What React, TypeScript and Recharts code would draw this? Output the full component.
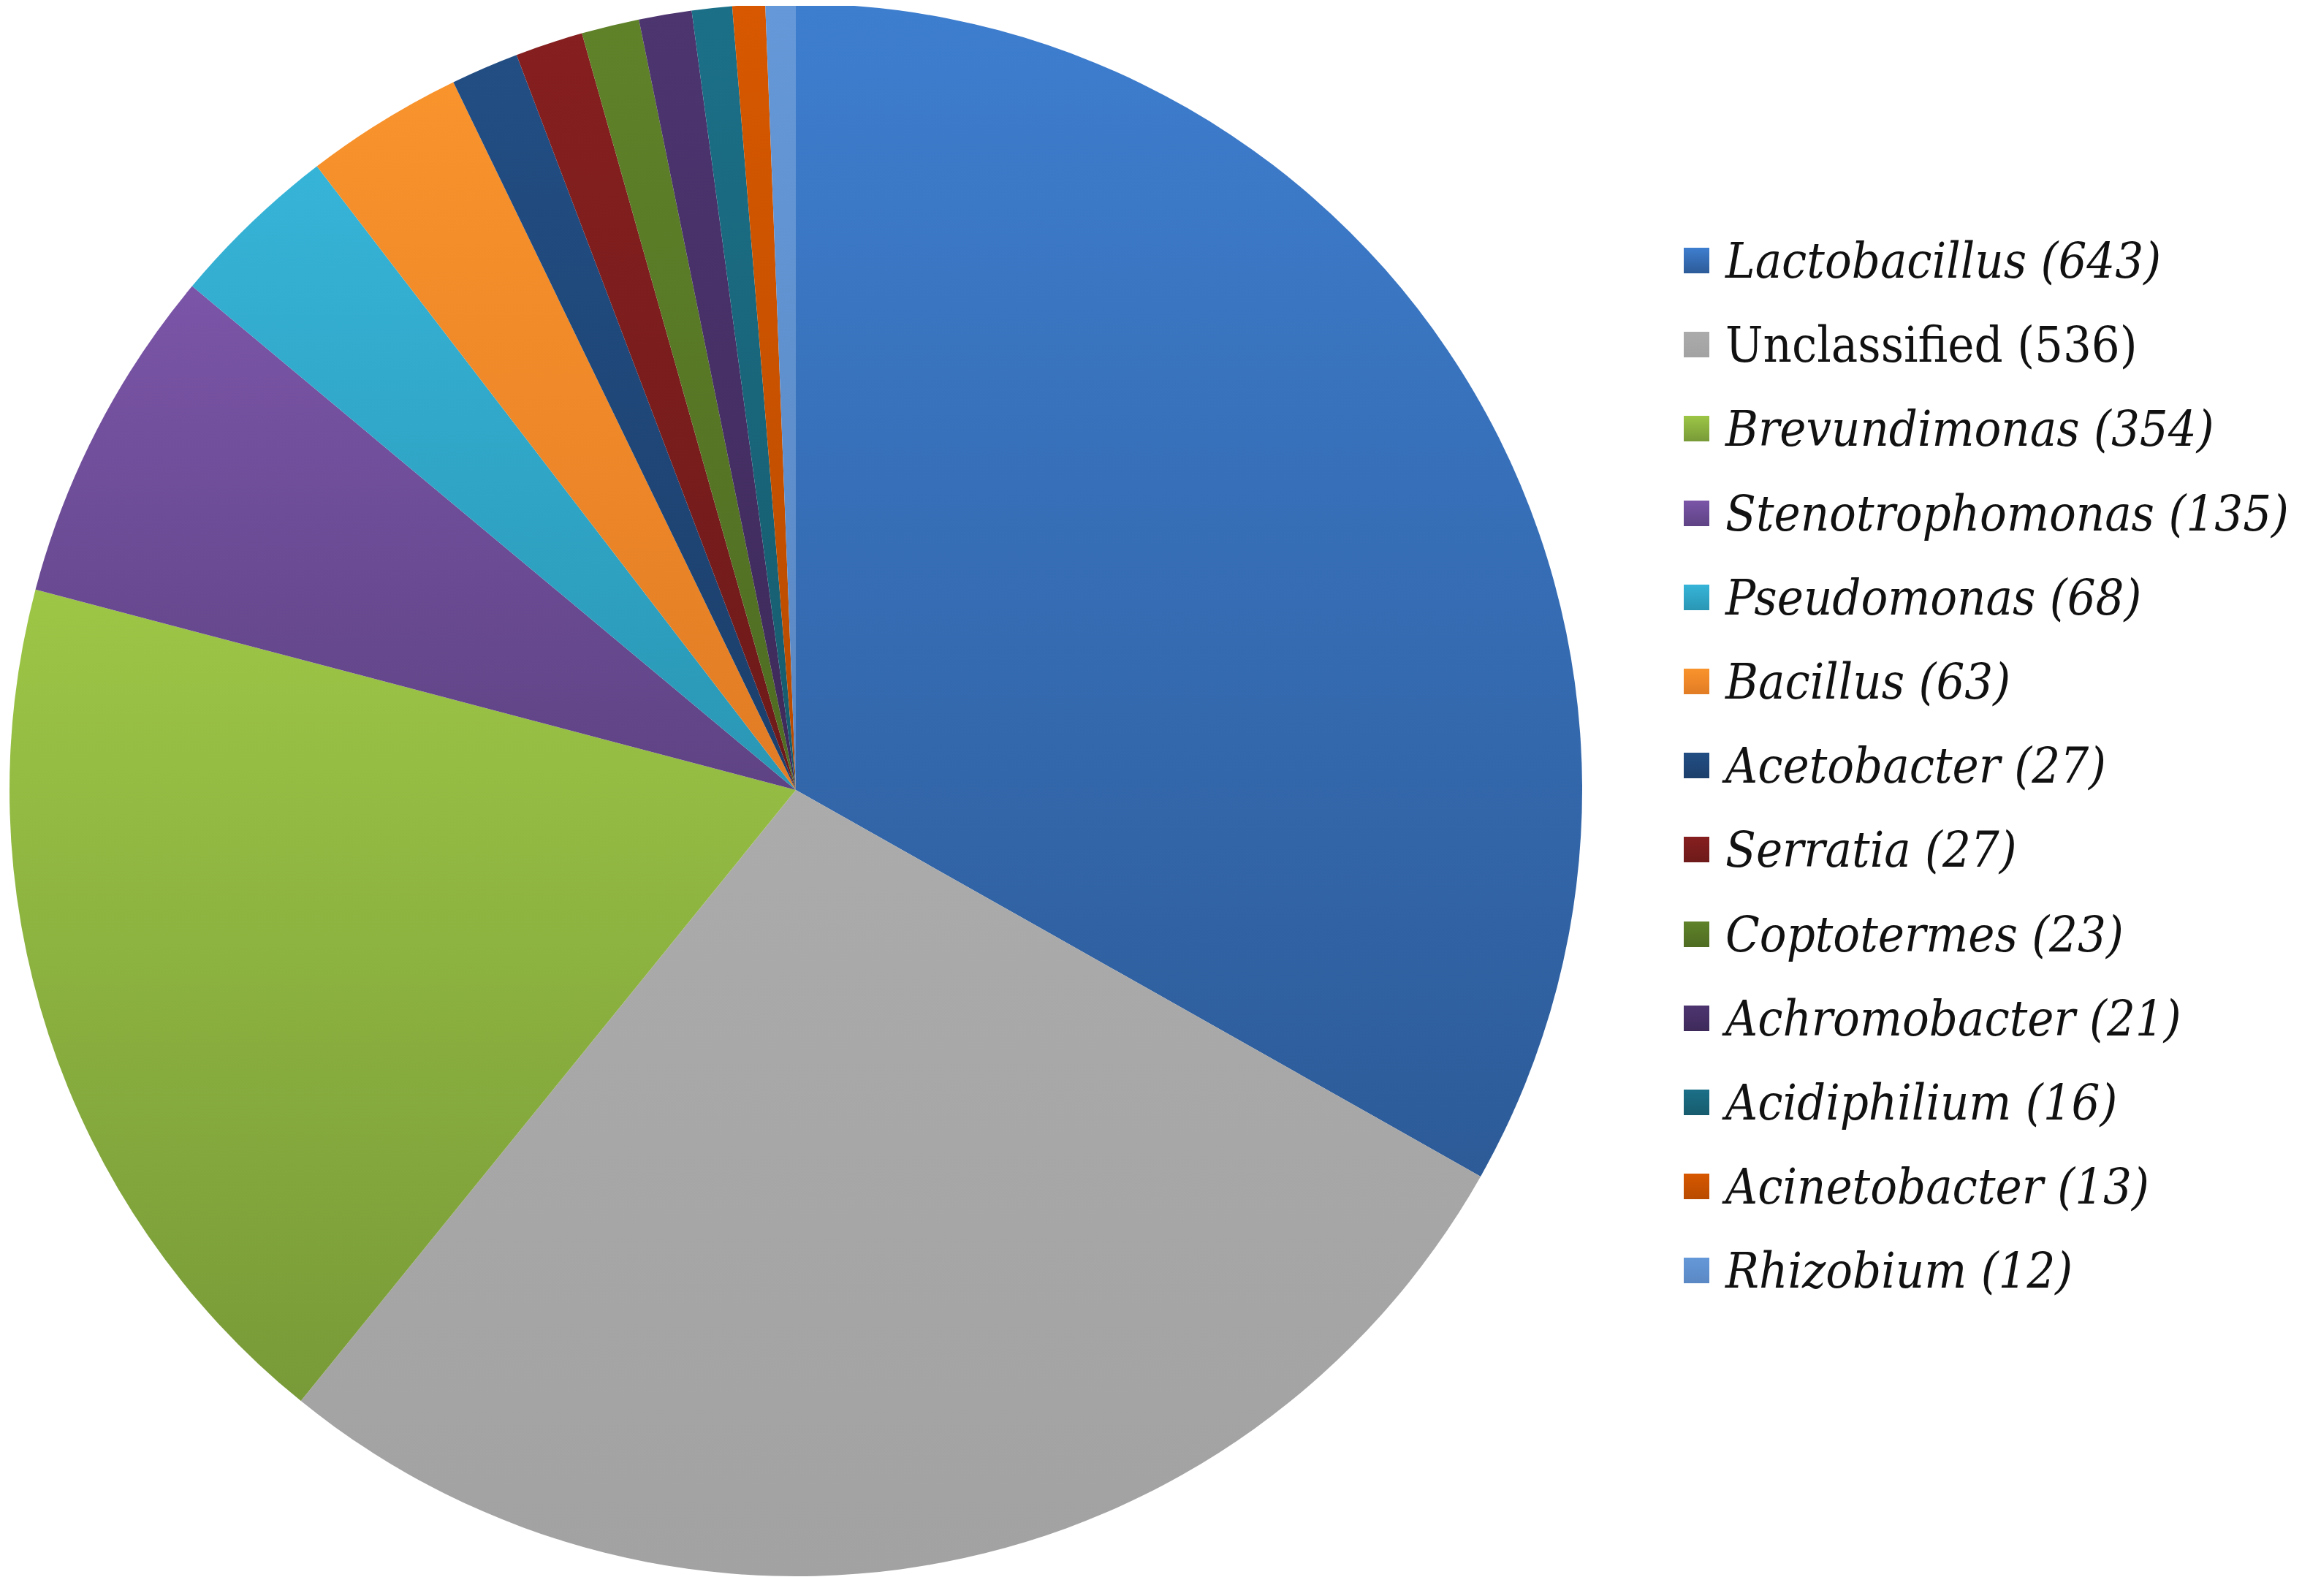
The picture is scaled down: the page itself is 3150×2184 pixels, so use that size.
import { Cell, Legend, Pie, PieChart } from "recharts";

const genera = [
  "Lactobacillus",
  "Unclassified",
  "Brevundimonas",
  "Stenotrophomonas",
  "Pseudomonas",
  "Bacillus",
  "Acetobacter",
  "Serratia",
  "Coptotermes",
  "Achromobacter",
  "Acidiphilium",
  "Acinetobacter",
  "Rhizobium",
];

const counts = [643, 536, 354, 135, 68, 63, 27, 27, 23, 21, 16, 13, 12];

// top / bottom colours of the slice gradients
const topColors = [
  "#3e7ecf", "#ababab", "#9dc646", "#7b55a8", "#36b4d8", "#f9932c", "#224e84",
  "#861f1f", "#5f8229", "#4d3570", "#1b7088", "#d75800", "#6598d8",
];
const bottomColors = [
  "#2d5b98", "#a2a2a2", "#789a38", "#5e4384", "#2a96b4", "#e27c25", "#1c3f6b",
  "#6e1a1a", "#4f6c22", "#3e2a5a", "#175b6d", "#b84b00", "#5a88c4",
];

const data = genera.map((name, i) => ({ name, value: counts[i] }));

function LegendList() {
  return (
    <div style={{ fontFamily: '"DejaVu Serif Condensed", "DejaVu Serif", serif', fontStretch: "condensed" }}>
      {genera.map((name, i) => (
        <div key={name} style={{ display: "flex", alignItems: "center", height: 115.2 }}>
          <div
            style={{
              width: 35,
              height: 35,
              marginRight: 22,
              background: `linear-gradient(${topColors[i]}, ${bottomColors[i]})`,
            }}
          />
          <span
            style={{
              fontSize: 68,
              color: "#111",
              whiteSpace: "nowrap",
              fontStyle: name === "Unclassified" ? "normal" : "italic",
            }}
          >
            {name} ({counts[i]})
          </span>
        </div>
      ))}
    </div>
  );
}

export default function App() {
  return (
    <PieChart width={3134} height={2168} margin={{ top: 0, right: 0, bottom: 0, left: 0 }}>
      <defs>
        {genera.map((name, i) => (
          <linearGradient key={name} id={`grad${i}`} x1="0" y1="0" x2="0" y2="1">
            <stop offset="0%" stopColor={topColors[i]} />
            <stop offset="100%" stopColor={bottomColors[i]} />
          </linearGradient>
        ))}
      </defs>
      <Pie
        data={data}
        dataKey="value"
        nameKey="name"
        cx={1081}
        cy={1073}
        outerRadius={1076}
        startAngle={90}
        endAngle={-270}
        stroke="none"
        isAnimationActive={false}
      >
        {data.map((d, i) => (
          <Cell key={d.name} fill={`url(#grad${i})`} />
        ))}
      </Pie>
      <Legend
        layout="vertical"
        content={() => <LegendList />}
        wrapperStyle={{ left: 2296, top: 291, width: 838 }}
      />
    </PieChart>
  );
}
